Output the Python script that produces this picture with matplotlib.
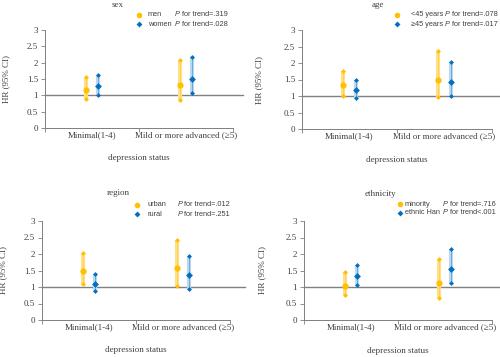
import matplotlib
matplotlib.use("Agg")
import matplotlib.pyplot as plt
import numpy as np

categories = ["Minimal(1-4)", "Mild or more advanced (\u22655)"]

# sex
sex_labels = ["men", "women"]
sex_p = ["=.319", "=.028"]
sex_hr = [[1.15, 1.33], [1.28, 1.51]]
sex_lo = [[0.88, 0.85], [1.00, 1.07]]
sex_hi = [[1.57, 2.09], [1.63, 2.16]]

# age
age_labels = ["<45 years", "\u226545 years"]
age_p = ["=.078", "=.017"]
age_hr = [[1.32, 1.50], [1.18, 1.42]]
age_lo = [[1.00, 0.97], [0.93, 1.00]]
age_hi = [[1.75, 2.35], [1.50, 2.02]]

# region
region_labels = ["urban", "rural"]
region_p = ["=.012", "=.251"]
region_hr = [[1.48, 1.58], [1.10, 1.35]]
region_lo = [[1.10, 1.03], [0.87, 0.93]]
region_hi = [[2.02, 2.41], [1.38, 1.95]]

# ethnicity
eth_labels = ["minority", "ethnic Han"]
eth_p = ["=.716", "<.001"]
eth_hr = [[1.04, 1.12], [1.32, 1.55]]
eth_lo = [[0.76, 0.67], [1.07, 1.11]]
eth_hi = [[1.45, 1.85], [1.66, 2.16]]

W, H = 500, 357
gold, gold_l = "#FFC000", "#FFE08A"
blue, blue_l = "#0070C0", "#BDD7EE"
serif = "Liberation Serif"
sans = "Liberation Sans"

fig = plt.figure(figsize=(5, 3.57), dpi=100)


def px(x, y):
    return x / W, 1 - y / H


panels = [
    # box = axes (left, top, right, bottom) in px; leg = marker x, y, label x, P x
    dict(box=(45, 30, 233, 128), title="sex", tpos=(118, 5), leg=(139, 15, 148, 175),
         ylx=10, xly=158, line_end=243,
         laby=sex_labels, p=sex_p, hr=sex_hr, lo=sex_lo, hi=sex_hi),
    dict(box=(302, 30, 492, 129), title="age", tpos=(378, 5), leg=(397, 15, 411, 445),
         ylx=263, xly=160, line_end=500,
         laby=age_labels, p=age_p, hr=age_hr, lo=age_lo, hi=age_hi),
    dict(box=(42, 221, 230, 320), title="region", tpos=(118, 193), leg=(137, 205, 147, 178),
         ylx=7, xly=350, line_end=245,
         laby=region_labels, p=region_p, hr=region_hr, lo=region_lo, hi=region_hi),
    dict(box=(304, 221, 492, 320), title="ethnicity", tpos=(380, 194), leg=(400, 204, 405, 443),
         ylx=266, xly=351, line_end=500,
         laby=eth_labels, p=eth_p, hr=eth_hr, lo=eth_lo, hi=eth_hi),
]

x = np.arange(len(categories))
offs = [-0.065, 0.065]

for pn in panels:
    l, t, r, b = pn["box"]
    ax = fig.add_axes([l / W, 1 - b / H, (r - l) / W, (b - t) / H])
    ax.set_xlim(-0.5, 1.5)
    ax.set_ylim(0, 3)
    for s in ["top", "right"]:
        ax.spines[s].set_visible(False)
    ax.spines["left"].set_color("#7f7f7f")
    ax.spines["bottom"].set_color("#7f7f7f")
    ax.spines["left"].set_linewidth(0.7)
    ax.spines["bottom"].set_linewidth(0.7)
    ax.set_yticks(np.arange(0, 3.01, 0.5))
    ax.set_yticklabels(["0", "0.5", "1", "1.5", "2", "2.5", "3"])
    ax.set_xticks([-0.5, 0.5, 1.5])
    ax.set_xticklabels([])
    ax.tick_params(axis="both", length=3, width=0.6, color="#7f7f7f",
                   labelsize=6.5, labelcolor="#404040", pad=2)
    for lab in ax.get_yticklabels():
        lab.set_family(serif)

    # reference line at HR = 1, running a little past the axis end
    ppu = (r - l) / 2.0
    ax.plot([-0.5, 1.5 + (pn["line_end"] - r) / ppu], [1, 1], color="#808080", lw=1,
            zorder=1, clip_on=False)

    for i, (cl, cl_l) in enumerate([(gold, gold_l), (blue, blue_l)]):
        xs = x + offs[i]
        for j in range(len(x)):
            ax.plot([xs[j], xs[j]], [pn["lo"][i][j], pn["hi"][i][j]], color=cl_l, lw=3, zorder=2,
                    solid_capstyle="butt")
            ax.plot([xs[j], xs[j]], [pn["lo"][i][j], pn["hi"][i][j]], color=cl, lw=0.5, zorder=3,
                    alpha=0.6)
        ax.plot(xs, pn["lo"][i], "D", color=cl, ms=2.5, mec="none", zorder=4)
        ax.plot(xs, pn["hi"][i], "D", color=cl, ms=2.5, mec="none", zorder=4)
        ax.plot(xs, pn["hr"][i], "o" if i == 0 else "D", color=cl, ms=4.5 if i == 0 else 3.5,
                mec="none", zorder=5)

    for j, c in enumerate(categories):
        ax.text(x[j], -0.1, c, transform=ax.transData, ha="center", va="top",
                fontsize=6.5, family=serif, color="#404040")
    ax.set_ylabel("HR (95% CI)", family=serif, fontsize=6.5, color="#404040")
    ax.yaxis.set_label_coords((pn["ylx"] - l) / (r - l), 0.5)

    fig.text(*px((l + r) / 2, pn["xly"]), "depression status", ha="center", va="center",
             family=serif, fontsize=6.5, color="#404040")
    fig.text(*px(*pn["tpos"]), pn["title"], ha="center", va="center",
             family=serif, fontsize=6.5, color="#404040")

    mx, my, tx, ptx = pn["leg"]
    for i, cl in enumerate([gold, blue]):
        yy = my + 9 * i
        fig.lines.append(plt.Line2D([mx / W], [1 - yy / H], marker="o" if i == 0 else "D",
                                    ms=4 if i == 0 else 3, color=cl, mec="none",
                                    transform=fig.transFigure))
        fig.text(*px(tx, yy), pn["laby"][i], ha="left", va="center", family=sans,
                 fontsize=5.3, color="#404040")
        fig.text(*px(ptx, yy), "P", ha="left", va="center", family=sans, style="italic",
                 fontsize=5.3, color="#404040")
        fig.text(*px(ptx + 4.5, yy), " for trend" + pn["p"][i], ha="left", va="center",
                 family=sans, fontsize=5.3, color="#404040")

fig.savefig("out.png", dpi=100)
